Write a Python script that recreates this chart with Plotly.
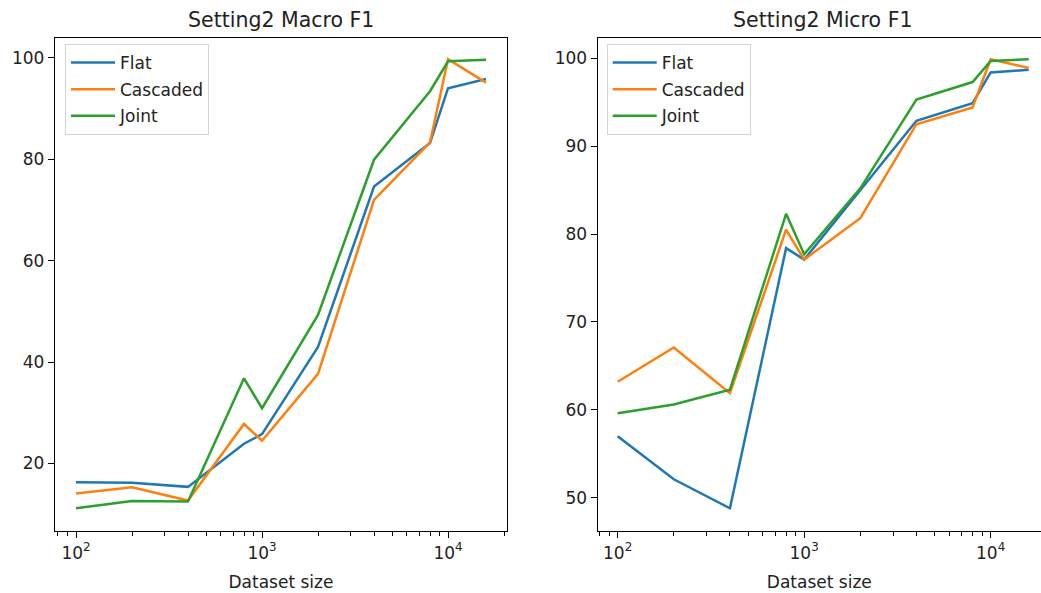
import plotly.graph_objects as go

sizes = [100, 200, 400, 800, 1000, 2000, 4000, 8000, 10000, 16000]

macro_flat = [16.3, 16.2, 15.4, 23.9, 25.8, 43.0, 74.6, 83.2, 94.0, 95.8]
macro_cascaded = [14.1, 15.3, 12.7, 27.8, 24.5, 37.7, 72.0, 83.3, 99.7, 95.1]
macro_joint = [11.2, 12.6, 12.5, 36.8, 30.9, 49.3, 79.9, 93.4, 99.3, 99.6]

micro_flat = [57.0, 52.1, 48.8, 78.4, 77.1, 85.0, 92.9, 94.9, 98.4, 98.7]
micro_cascaded = [63.2, 67.1, 61.9, 80.5, 77.1, 81.8, 92.5, 94.4, 99.9, 98.9]
micro_joint = [59.6, 60.6, 62.3, 82.3, 77.7, 85.2, 95.3, 97.3, 99.7, 99.9]

series_names = ["Flat", "Cascaded", "Joint"]
colors = ["#1f77b4", "#ff7f0e", "#2ca02c"]
titles = ["Setting2 Macro F1", "Setting2 Micro F1"]
x_label = "Dataset size"

major_x = [100, 1000, 10000]
major_x_text = ["10<sup>2</sup>", "10<sup>3</sup>", "10<sup>4</sup>"]
minor_x = [m * 10 ** e for e in range(1, 5) for m in range(2, 10)]

W, H = 1041, 593
FONT = "DejaVu Sans"

fig = go.Figure()

panels = [
    ([macro_flat, macro_cascaded, macro_joint], "x", "y", "legend"),
    ([micro_flat, micro_cascaded, micro_joint], "x2", "y2", "legend2"),
]
for vals, xa, ya, lg in panels:
    for i, (name, v, c) in enumerate(zip(series_names, vals, colors)):
        fig.add_trace(go.Scatter(
            x=sizes, y=v, mode="lines", name=name,
            line=dict(color=c, width=2.5),
            xaxis=xa, yaxis=ya, legend=lg, legendgroup=f"{lg}_{i}",
        ))

def px_x(p):
    return p / W

def px_y(p):
    return 1 - p / H

y_dom = [px_y(531), px_y(37.5)]
x1_dom = [px_x(55), px_x(507)]
x2_dom = [px_x(597.7), 1.0]

axis_common = dict(
    showgrid=False, zeroline=False, showline=True, linecolor="black",
    linewidth=1.3, ticks="outside", ticklen=6, tickwidth=1.3,
    tickcolor="black", tickfont=dict(family=FONT, size=17, color="#222"),
    automargin=False,
)

xcommon = dict(
    axis_common, type="log", tickmode="array", tickvals=major_x,
    ticktext=major_x_text,
    minor=dict(tickmode="array", tickvals=minor_x, ticks="outside",
               ticklen=3.5, tickwidth=1.1, tickcolor="black", showgrid=False),
    title=dict(text=x_label, font=dict(family=FONT, size=17, color="#222"),
               standoff=14),
)

legend_common = dict(
    xanchor="left", yanchor="top",
    bgcolor="rgba(255,255,255,0.8)", bordercolor="#d5d5d5",
    borderwidth=1, tracegroupgap=1.5, itemwidth=44,
    font=dict(family=FONT, size=17, color="#222"),
)

fig.update_layout(
    width=W, height=H,
    margin=dict(l=0, r=0, t=0, b=0),
    paper_bgcolor="white", plot_bgcolor="white",
    font=dict(family=FONT, size=17, color="#222"),
    showlegend=True,
    xaxis=dict(xcommon, domain=x1_dom, range=[1.887, 4.317], mirror=True,
               anchor="y"),
    yaxis=dict(axis_common, domain=y_dom, range=[6.7, 104.0],
               tickvals=[20, 40, 60, 80, 100], mirror=True, anchor="x"),
    xaxis2=dict(xcommon, domain=x2_dom, range=[1.893, 4.27], mirror=True,
                anchor="y2"),
    yaxis2=dict(axis_common, domain=y_dom, range=[46.21, 102.37],
                tickvals=[50, 60, 70, 80, 90, 100], mirror=False,
                anchor="x2"),
    legend=dict(legend_common, x=px_x(65), y=px_y(44)),
    legend2=dict(legend_common, x=px_x(606.7), y=px_y(44)),
)

for dom, t in zip([x1_dom, [px_x(597.7), px_x(1049)]], titles):
    fig.add_annotation(
        text=t, xref="paper", yref="paper",
        x=(dom[0] + dom[1]) / 2, y=y_dom[1], xanchor="center",
        yanchor="bottom", yshift=3, showarrow=False,
        font=dict(family=FONT, size=20.5, color="#222"),
    )

fig.write_html(
    "out.html",
    config={"displayModeBar": False},
    post_script="document.body.style.margin='0';document.body.style.overflow='hidden';",
)
